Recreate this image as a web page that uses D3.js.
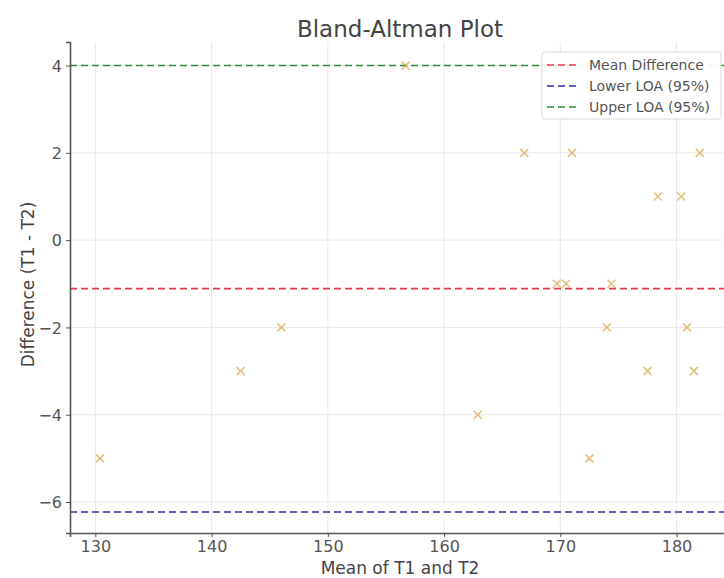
<!DOCTYPE html>
<html>
<head>
<meta charset="utf-8">
<script src="https://cdn.jsdelivr.net/npm/d3@7"></script>
<style>
  html, body { margin: 0; padding: 0; background: #fff; }
  svg { display: block; font-family: "DejaVu Sans", sans-serif; }
</style>
</head>
<body>
<svg id="chart" width="724" height="578"></svg>
<script>
// ---- data ----
const meanValues = [130.4, 142.5, 146.0, 156.7, 162.9, 166.9, 171.0, 169.7, 170.5, 172.5, 174.0, 174.4, 177.5, 178.4, 180.4, 180.9, 181.5, 182.0];
const diffValues = [-5, -3, -2, 4, -4, 2, 2, -1, -1, -5, -2, -1, -3, 1, 1, -2, -3, 2];
const refLabels = ["Mean Difference", "Lower LOA (95%)", "Upper LOA (95%)"];
const refValues = [-1.11, -6.23, 4.0];
const refColors = ["#e23a4e", "#2c2ca0", "#2f8a3a"];
const xTicks = [130, 140, 150, 160, 170, 180];
const yTicks = [-6, -4, -2, 0, 2, 4];
const xDomain = [127.82, 184.6];
const yDomain = [-6.71, 4.54];

const svg = d3.select("#chart");
const m = { left: 70, right: -6, top: 42, bottom: 45 };
const W = 724, H = 578;
const x = d3.scaleLinear().domain(xDomain).range([m.left, W - m.right]);
const y = d3.scaleLinear().domain(yDomain).range([H - m.bottom, m.top]);

// grid
const g = svg.append("g");
g.selectAll("line.vg").data(xTicks).join("line")
  .attr("x1", d => x(d)).attr("x2", d => x(d))
  .attr("y1", y(yDomain[0])).attr("y2", y(yDomain[1]))
  .attr("stroke", "#e9e9e9").attr("stroke-width", 1);
g.selectAll("line.hg").data(yTicks).join("line")
  .attr("x1", x(xDomain[0])).attr("x2", x(xDomain[1]))
  .attr("y1", d => y(d)).attr("y2", d => y(d))
  .attr("stroke", "#e9e9e9").attr("stroke-width", 1);

// reference lines
svg.append("g").selectAll("line").data(refValues).join("line")
  .attr("x1", x(xDomain[0])).attr("x2", x(xDomain[1]))
  .attr("y1", d => y(d)).attr("y2", d => y(d))
  .attr("stroke", (d, i) => refColors[i])
  .attr("stroke-width", 1.6)
  .attr("stroke-dasharray", "7,4");

// points (x markers)
const pts = d3.range(meanValues.length).map(i => ({ mx: meanValues[i], dy: diffValues[i] }));
const s = 4;
const pg = svg.append("g").selectAll("g").data(pts).join("g")
  .attr("transform", d => `translate(${x(d.mx)},${y(d.dy)})`);
pg.append("path")
  .attr("d", `M${-s},${-s}L${s},${s}M${-s},${s}L${s},${-s}`)
  .attr("stroke", "#d9a74a").attr("stroke-opacity", 0.7)
  .attr("stroke-width", 1.6).attr("fill", "none");

// axes
const xAxis = d3.axisBottom(x).tickValues(xTicks).tickSize(4).tickPadding(4).tickFormat(d3.format("d"));
const yAxis = d3.axisLeft(y).tickValues(yTicks).tickSize(4).tickPadding(4)
  .tickFormat(d => d < 0 ? "\u2212" + Math.abs(d) : String(d));

const gx = svg.append("g").attr("transform", `translate(0,${H - m.bottom})`).call(xAxis);
const gy = svg.append("g").attr("transform", `translate(${m.left},0)`).call(yAxis);
[gx, gy].forEach(a => {
  a.select(".domain").attr("stroke", "#555").attr("stroke-width", 1.6);
  a.selectAll(".tick line").attr("stroke", "#555").attr("stroke-width", 1);
  a.selectAll(".tick text").attr("fill", "#555").style("font-size", "16px")
    .style("font-family", "DejaVu Sans, sans-serif");
});
gy.selectAll(".tick text").attr("dy", "0.36em");

// title & labels
svg.append("text").attr("x", 400).attr("y", 37).attr("text-anchor", "middle")
  .attr("fill", "#444").style("font-size", "23px").text("Bland-Altman Plot");
svg.append("text").attr("x", 400).attr("y", 574).attr("text-anchor", "middle")
  .attr("fill", "#444").style("font-size", "17px").text("Mean of T1 and T2");
svg.append("text").attr("transform", `translate(34,${(m.top + H - m.bottom) / 2 - 3}) rotate(-90)`)
  .attr("text-anchor", "middle").attr("fill", "#444").style("font-size", "17px")
  .text("Difference (T1 - T2)");

// legend
const lg = svg.append("g").attr("transform", "translate(542,52)");
lg.append("rect").attr("width", 179).attr("height", 67).attr("rx", 3)
  .attr("fill", "#fff").attr("fill-opacity", 0.92)
  .attr("stroke", "#d8d8d8").attr("stroke-width", 1);
const li = lg.selectAll("g").data(refLabels).join("g")
  .attr("transform", (d, i) => `translate(0,${13 + i * 21})`);
li.append("line").attr("x1", 5).attr("x2", 37).attr("y1", 0).attr("y2", 0)
  .attr("stroke", (d, i) => refColors[i]).attr("stroke-width", 1.6)
  .attr("stroke-dasharray", "7,4");
li.append("text").attr("x", 47).attr("y", 0).attr("dy", "0.35em")
  .attr("fill", "#555").style("font-size", "14px").text(d => d);
</script>
</body>
</html>
